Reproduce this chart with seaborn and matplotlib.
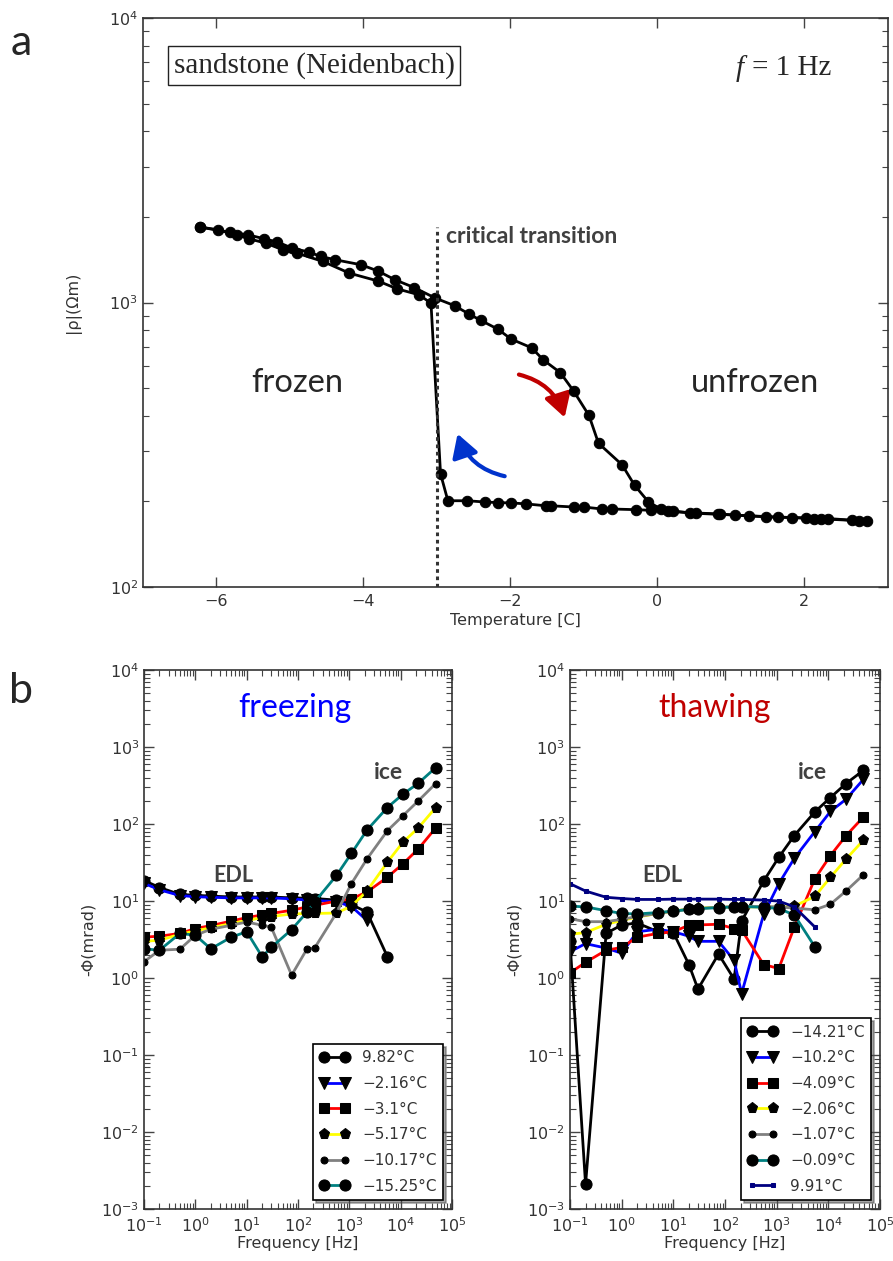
import matplotlib
matplotlib.use("Agg")
import matplotlib.pyplot as plt
import seaborn as sns
from matplotlib.patches import FancyArrowPatch
from matplotlib.ticker import LogLocator, NullFormatter

# --- panel a: |rho| vs temperature at 1 Hz (cooling run and warming run)
cool_T = [2.85, 2.65, 2.23, 2.13, 1.84, 1.48, 1.06, 0.83, 0.53, 0.14,
          -0.09, -0.29, -0.62, -0.75, -1.00, -1.13, -1.45, -1.52, -1.79, -1.99,
          -2.17, -2.35, -2.59, -2.85, -2.95, -3.08, -3.24, -3.54, -3.80, -4.19,
          -4.55, -4.91, -5.10, -5.33, -5.56, -5.72, -5.98, -6.22]
cool_rho = [171, 171.5, 173.6, 173.6, 175.5, 176.4, 179, 180.7, 182, 184.7,
            186, 187, 188, 188, 191, 191, 193, 193, 196, 197.5,
            198, 199, 201, 201, 250, 994, 1064, 1117, 1190, 1268,
            1394, 1493, 1533, 1618, 1675, 1730, 1802, 1841]
warm_T = [-6.22, -5.82, -5.57, -5.35, -5.17, -4.97, -4.74, -4.58, -4.38, -4.03,
          -3.80, -3.57, -3.31, -3.02, -2.76, -2.56, -2.40, -2.17, -1.99, -1.71,
          -1.55, -1.32, -1.14, -0.93, -0.80, -0.48, -0.31, -0.12, 0.05, 0.21,
          0.44, 0.85, 1.25, 1.64, 2.03, 2.33, 2.75]
warm_rho = [1841, 1764, 1730, 1675, 1632, 1553, 1504, 1452, 1413, 1357,
            1290, 1202, 1129, 1036, 975, 910, 865, 806, 744, 693,
            628, 567, 489, 401, 320, 269, 228, 199, 188, 185,
            182, 180, 178, 176, 175, 174, 171]
critical_T = -3.0

# --- panel b: phase spectra
freq = [0.1, 0.2, 0.5, 1, 2, 5, 10, 20, 30, 75, 150, 210, 560, 1100, 2200,
        5500, 11000, 22000, 48000]

freeze_labels = ["9.82°C", "\u22122.16°C", "\u22123.1°C", "\u22125.17°C",
                 "\u221210.17°C", "\u221215.25°C"]
fz_p982 = [18.5, 15.0, 12.2, 11.9, 11.6, 11.3, 11.3, 11.3, 11.3, 11.0, 10.9, 10.8,
           10.3, 9.0, 7.2, 1.9]
fz_m216 = [17.0, 14.0, 11.8, 11.4, 11.2, 11.0, 11.0, 11.0, 11.0, 10.7, 10.3, 10.2,
           9.8, 8.5, 5.6]
fz_m310 = [3.4, 3.5, 3.8, 4.4, 4.8, 5.5, 6.1, 6.6, 6.9, 7.6, 8.4, 8.8, 10.0, 10.7,
           13.1, 20.4, 30.4, 47.5, 89]
fz_m517 = [3.0, 3.1, 3.7, 4.1, 4.5, 5.1, 5.6, 6.1, 6.3, 6.8, 6.9, 6.9, 7.0, 8.6,
           13.5, 31.9, 58, 89, 164]
fz_m1017 = [1.63, 2.3, 2.37, 3.6, 4.3, 4.85, 5.35, 4.85, 4.6, 1.09, 2.4, 2.45, 7.0,
            16.9, 35.2, 82, 128, 200, 336]
fz_m1525 = [2.4, 2.3, 3.8, 3.6, 2.4, 3.4, 4.0, 1.89, 2.5, 4.26, 7.2, 9.7, 21.5,
            41.7, 83.5, 164, 244, 339, 541]

thaw_labels = ["\u221214.21°C", "\u221210.2°C", "\u22124.09°C", "\u22122.06°C",
               "\u22121.07°C", "\u22120.09°C", "9.91°C"]
th_m1421 = [3.0, 0.0021, 3.8, 4.9, 5.2, 4.0, 3.9, 1.5, 0.72, 2.05, 0.97, 5.5, 18.2,
            37, 71, 144, 221, 336, 499]
th_m102 = [2.2, 2.8, 2.45, 2.1, 4.0, 4.3, 4.0, 3.5, 3.0, 3.0, 1.7, 0.63, 6.7, 16.8,
           36, 80, 146, 210, 382]
th_m409 = [1.17, 1.6, 2.3, 2.5, 3.4, 3.8, 4.0, 4.85, 4.9, 5.0, 4.4, 4.2, 1.5, 1.33,
           4.6, 19.5, 39, 70.6, 124]
th_m206 = [3.7, 3.9, 5.0, 5.6, 6.2, 6.9, 7.4, 7.9, 8.1, 8.3, 8.4, 8.4, 8.4, 8.3,
           8.6, 11.5, 20.4, 35, 62]
th_m107 = [5.9, 5.4, 5.4, 5.8, 6.3, 6.9, 7.4, 7.8, 8.0, 8.3, 8.5, 8.5, 8.5, 8.4,
           8.1, 7.7, 9.1, 13.5, 22]
th_m009 = [8.6, 8.4, 7.5, 6.9, 6.8, 7.1, 7.4, 7.8, 8.0, 8.2, 8.4, 8.5, 8.3, 8.0,
           6.6, 2.54]
th_p991 = [16.8, 13.5, 11.2, 10.8, 10.5, 10.5, 10.6, 10.6, 10.6, 10.6, 10.5, 10.5,
           10.3, 10.0, 8.4, 4.6]

# line colour, marker, marker size
styles = [("k", "o", 8), ("#0000ff", "v", 9), ("#ff0000", "s", 7),
          ("#ffff00", "p", 8), ("#808080", "o", 5), ("#008080", "o", 8)]
navy_style = ("#000080", "s", 2.5)

sns.set_style("ticks")
plt.rcParams['font.family'] = ['DejaVu Sans']
plt.rcParams['axes.edgecolor'] = '#333333'
plt.rcParams['axes.linewidth'] = 1.2
LABEL_FONT = ['Lato', 'DejaVu Sans']

fig = plt.figure(figsize=(8.93, 12.61), dpi=100)
ax_a = fig.add_axes([0.1601, 0.5345, 0.8343, 0.4512])
ax_f = fig.add_axes([0.1613, 0.0412, 0.3449, 0.4274])
ax_t = fig.add_axes([0.6383, 0.0412, 0.3471, 0.4274])


def style_axes(ax, minor_x=True):
    ax.tick_params(which='both', direction='in', top=True, right=True,
                   color='#444444', labelsize=11.5, labelcolor='#333333')
    ax.tick_params(which='major', length=7, width=1)
    ax.tick_params(which='minor', length=4, width=0.8)
    ax.tick_params(axis='x', which='major', pad=5)
    if not minor_x:
        ax.tick_params(axis='x', which='minor', length=0)


# ---------------- panel a
ax_a.set_yscale('log')
sns.lineplot(x=cool_T, y=cool_rho, ax=ax_a, color='k', marker='o', markersize=7.5,
             markerfacecolor='k', markeredgecolor='k', linewidth=2,
             estimator=None, sort=False)
sns.lineplot(x=warm_T, y=warm_rho, ax=ax_a, color='k', marker='o', markersize=7.5,
             markerfacecolor='k', markeredgecolor='k', linewidth=2,
             estimator=None, sort=False)
ax_a.vlines(critical_T, 100, 1850, colors='#333333', linestyles=(0, (1.2, 1.2)),
            linewidth=2.2)
ax_a.set_xlim(-7, 3.14)
ax_a.set_ylim(1e2, 1e4)
ax_a.set_xticks([-6, -4, -2, 0, 2])
ax_a.set_yticks([1e2, 1e3, 1e4])
ax_a.yaxis.set_minor_locator(LogLocator(base=10, subs=range(2, 10), numticks=20))
ax_a.yaxis.set_minor_formatter(NullFormatter())
style_axes(ax_a, minor_x=False)
ax_a.set_xlabel("Temperature [C]", fontsize=11.5, color='#333333', labelpad=3)
ax_a.set_ylabel("|ρ|(Ωm)", fontsize=11.5, color='#333333', labelpad=20)

ax_a.text(0.2295, 0.917, "sandstone (Neidenbach)", transform=ax_a.transAxes,
          family='Liberation Serif', fontsize=21, ha='center', va='center',
          bbox=dict(boxstyle='square,pad=0.2', fc='white', ec='#222222', lw=1))
ax_a.text(0.806, 0.912, "f", transform=ax_a.transAxes, family='Liberation Serif',
          style='italic', fontsize=21, ha='right', va='center')
ax_a.text(0.818, 0.912, "= 1 Hz", transform=ax_a.transAxes, family='Liberation Serif',
          fontsize=21, ha='left', va='center')
ax_a.text(-2.87, 1700, "critical transition", family=LABEL_FONT, fontweight='bold',
          fontsize=16.5, color='#404040', ha='left', va='center')
ax_a.text(-4.9, 521, "frozen", family=LABEL_FONT, fontsize=23.5, ha='center', va='center')
ax_a.text(1.33, 521, "unfrozen", family=LABEL_FONT, fontsize=23.5, ha='center', va='center')

ax_a.add_patch(FancyArrowPatch((-1.92, 561), (-1.25, 386),
                               connectionstyle='arc3,rad=-0.3',
                               arrowstyle='-|>,head_length=0.55,head_width=0.32',
                               mutation_scale=25, color='#c00000', lw=3))
ax_a.add_patch(FancyArrowPatch((-2.04, 244), (-2.73, 353),
                               connectionstyle='arc3,rad=-0.3',
                               arrowstyle='-|>,head_length=0.55,head_width=0.32',
                               mutation_scale=25, color='#0033cc', lw=3))


# ---------------- panel b
def spectra(ax, series, labels, sty):
    ax.set_xscale('log')
    ax.set_yscale('log')
    for vals, lab, (c, m, ms) in zip(series, labels, sty):
        mfc = 'k' if c != navy_style[0] else c
        sns.lineplot(x=freq[:len(vals)], y=vals, ax=ax, color=c, marker=m,
                     markersize=ms, markerfacecolor=mfc, markeredgecolor=mfc,
                     linewidth=2, estimator=None, sort=False, label=lab)
    ax.set_xlim(1e-1, 1e5)
    ax.set_ylim(1e-3, 1e4)
    ax.set_xticks([10.0 ** k for k in range(-1, 6)])
    ax.set_yticks([10.0 ** k for k in range(-3, 5)])
    for axis in (ax.xaxis, ax.yaxis):
        axis.set_minor_locator(LogLocator(base=10, subs=range(2, 10), numticks=40))
        axis.set_minor_formatter(NullFormatter())
    style_axes(ax)
    ax.set_xlabel("Frequency [Hz]", fontsize=11.5, color='#333333', labelpad=1)
    ax.set_ylabel("-Φ(mrad)", fontsize=11.5, color='#333333', labelpad=4)
    leg = ax.legend(loc='lower right', numpoints=2, fancybox=False, shadow=True,
                    edgecolor='k', framealpha=1, fontsize=11, handlelength=2.0,
                    handletextpad=0.8, borderaxespad=0.6, labelspacing=0.7)
    leg.get_frame().set_linewidth(1.2)
    for t in leg.get_texts():
        t.set_color('#333333')


spectra(ax_f, [fz_p982, fz_m216, fz_m310, fz_m517, fz_m1017, fz_m1525],
        freeze_labels, styles)
spectra(ax_t, [th_m1421, th_m102, th_m409, th_m206, th_m107, th_m009, th_p991],
        thaw_labels, styles + [navy_style])

ax_f.text(0.49, 0.929, "freezing", transform=ax_f.transAxes, family=LABEL_FONT,
          fontsize=23, color='#0000ff', ha='center', va='center')
ax_t.text(0.468, 0.929, "thawing", transform=ax_t.transAxes, family=LABEL_FONT,
          fontsize=23, color='#c00000', ha='center', va='center')
ax_f.text(5.4, 21.5, "EDL", family=LABEL_FONT, fontweight='bold', fontsize=15.5,
          color='#404040', ha='center', va='center')
ax_t.text(6.1, 21.5, "EDL", family=LABEL_FONT, fontweight='bold', fontsize=15.5,
          color='#404040', ha='center', va='center')
ax_f.text(5700, 467, "ice", family=LABEL_FONT, fontweight='bold', fontsize=16.5,
          color='#404040', ha='center', va='center')
ax_t.text(5000, 467, "ice", family=LABEL_FONT, fontweight='bold', fontsize=16.5,
          color='#404040', ha='center', va='center')

fig.text(0.024, 0.966, "a", family=LABEL_FONT, fontsize=31, ha='center', va='center')
fig.text(0.024, 0.452, "b", family=LABEL_FONT, fontsize=31, ha='center', va='center')

fig.savefig("out.png", dpi=100, facecolor='white')
